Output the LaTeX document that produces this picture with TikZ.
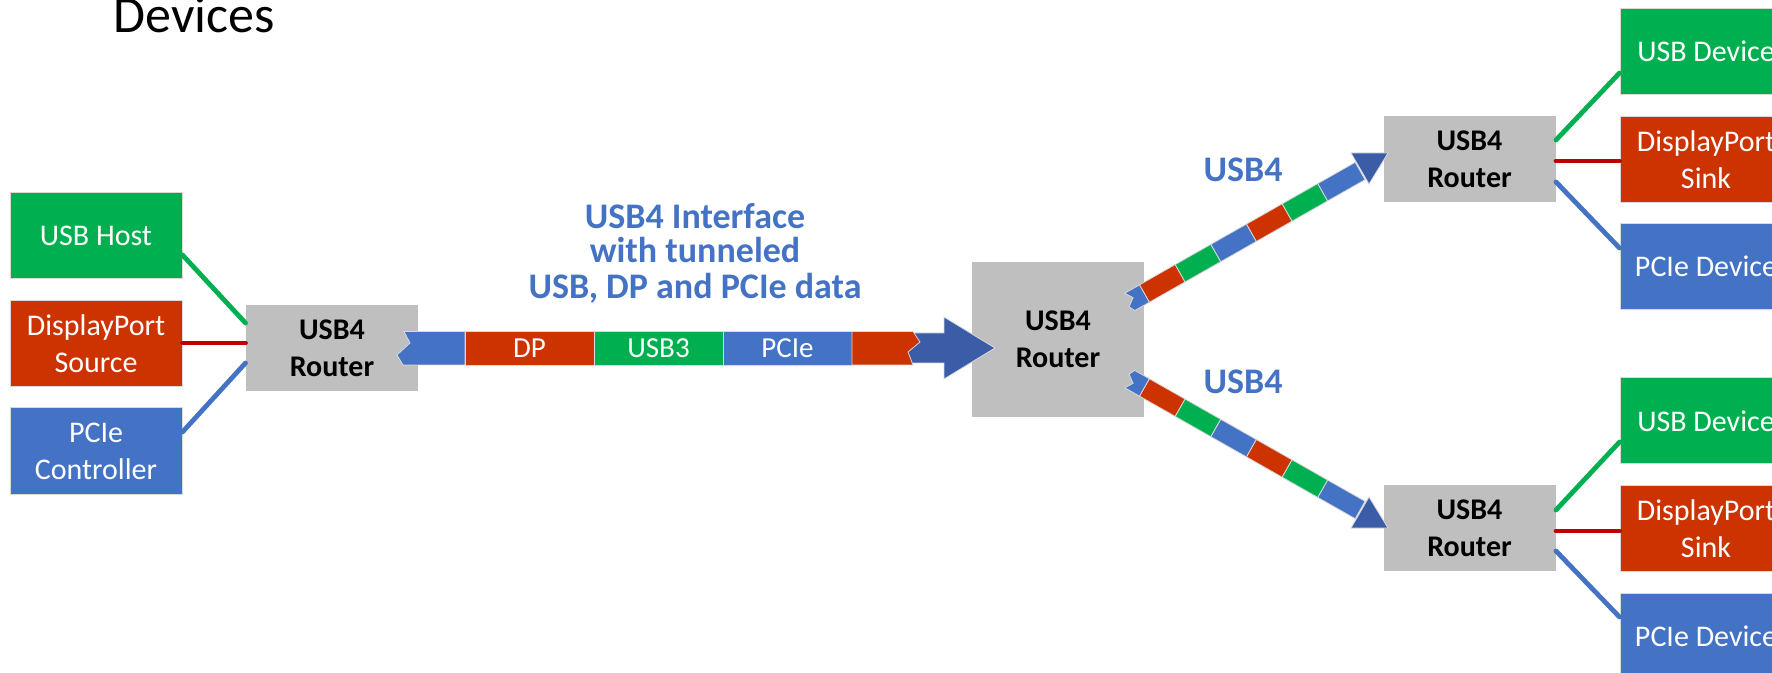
\documentclass[tikz,border=0pt]{standalone}
\usepackage{fontspec}
\setmainfont{Carlito}
\definecolor{ugreen}{HTML}{00B050}
\definecolor{ured}{HTML}{CC3300}
\definecolor{ublue}{HTML}{4472C4}
\definecolor{udark}{HTML}{3B5DA8}
\definecolor{ugray}{HTML}{BFBFBF}
\definecolor{uline}{HTML}{C00000}
\definecolor{edge}{HTML}{D9D9D9}
\newcommand\drawbranch{%
  \begin{scope}[shift={(1144.5,293.5)}, rotate=29.6]
    \filldraw[seg, fill=ublue] (0,-10) -- (-17,-10) -- (-12,-2) -- (-20,4) -- (-17,10) -- (0,10) -- cycle;
    \filldraw[seg, fill=ured]   (0,-10) rectangle (41,10);
    \filldraw[seg, fill=ugreen] (41,-10) rectangle (82,10);
    \filldraw[seg, fill=ublue]  (82,-10) rectangle (123,10);
    \filldraw[seg, fill=ured]   (123,-10) rectangle (164,10);
    \filldraw[seg, fill=ugreen] (164,-10) rectangle (205,10);
    \filldraw[seg, fill=ublue]  (205,-10) rectangle (248,10);
  \end{scope}
  \filldraw[seg, fill=udark] (1351,153) -- (1388,153) -- (1369,184) -- cycle;
}
\begin{document}
\begin{tikzpicture}[x=0.5pt,y=-0.5pt,
  box/.style={rectangle, minimum width=86pt, minimum height=43pt, inner sep=0pt,
    align=center, text=white, font=\fontsize{15}{18.5}\selectfont, draw=edge, line width=0.5pt},
  router/.style={box, fill=ugray, text=black, font=\fontsize{15}{18.5}\selectfont\bfseries, draw=none},
  link/.style={line width=2.4pt, line cap=round},
  seg/.style={draw=edge, line width=0.4pt},
  blabel/.style={text=ublue, font=\fontsize{18}{18}\selectfont\bfseries, inner sep=0pt, anchor=base},
  bandtxt/.style={text=white, font=\fontsize{14.5}{14.5}\selectfont, inner sep=0pt}
]
\useasboundingbox (0,0) rectangle (1772,673);
\clip (0,0) rectangle (1772,673);

% title
\node[anchor=base west, inner sep=0pt, font=\fontsize{26}{26}\selectfont] (title) at (113,32.5) {Devices};

% left side
\node[box, fill=ugreen] (usbhost) at (96,236) {USB Host};
\node[box, fill=ured]   (dpsrc)   at (96,344) {DisplayPort\\Source};
\node[box, fill=ublue]  (pcictl)  at (96,451) {PCIe\\Controller};
\node[router] (rL) at (332,348) {USB4\\Router};

% middle router
\node[router, minimum height=77.5pt] (rM) at (1058,339.5) {USB4\\Router};

% right routers
\node[router] (rTR) at (1469.5,159) {USB4\\Router};
\node[router] (rBR) at (1469.5,528) {USB4\\Router};

% right devices
\node[box, fill=ugreen] (usbdev1) at (1706,51.5)  {USB Device};
\node[box, fill=ured]   (dpsink1) at (1706,159.5) {DisplayPort\\Sink};
\node[box, fill=ublue]  (pcidev1) at (1706,266.5) {PCIe Device};
\node[box, fill=ugreen] (usbdev2) at (1706,421)   {USB Device};
\node[box, fill=ured]   (dpsink2) at (1706,528.5) {DisplayPort\\Sink};
\node[box, fill=ublue]  (pcidev2) at (1706,636)   {PCIe Device};

% links left
\draw[link, ugreen] ([yshift=-9.5pt]usbhost.east) -- ([yshift=12.5pt]rL.west);
\draw[link, uline]  ([yshift=0.5pt]dpsrc.east) -- ([yshift=0.5pt]dpsrc.east -| rL.west);
\draw[link, ublue]  ([yshift=9.5pt]pcictl.east) -- ([yshift=-7.5pt]rL.west);

% links right top
\draw[link, ugreen] ([yshift=9.5pt]rTR.east) -- ([yshift=-10.75pt]usbdev1.west);
\draw[link, uline]  ([yshift=-1pt]rTR.east) -- ([yshift=-1pt]rTR.east -| dpsink1.west);
\draw[link, ublue]  ([yshift=-11.5pt]rTR.east) -- ([yshift=9.25pt]pcidev1.west);

% links right bottom
\draw[link, ugreen] ([yshift=9pt]rBR.east) -- ([yshift=-10.5pt]usbdev2.west);
\draw[link, uline]  ([yshift=-1.5pt]rBR.east) -- ([yshift=-1.5pt]rBR.east -| dpsink2.west);
\draw[link, ublue]  ([yshift=-11.5pt]rBR.east) -- ([yshift=9.5pt]pcidev2.west);

% main tunnel arrow
\filldraw[seg, fill=udark] (900,333) -- (944,333) -- (944,317) -- (995,348) -- (944,379) -- (944,363) -- (900,363) -- cycle;
\filldraw[seg, fill=ublue] (404,331.5) -- (410,343) -- (397,355) -- (403,365) -- (465,365) -- (465,331.5) -- cycle;
\filldraw[seg, fill=ured]   (465,331.5) rectangle (594,365);
\filldraw[seg, fill=ugreen] (594,331.5) rectangle (723,365);
\filldraw[seg, fill=ublue]  (723,331.5) rectangle (852,365);
\filldraw[seg, fill=ured] (852,331.5) -- (913,331.5) -- (920,342) -- (908,352) -- (913,365) -- (852,365) -- cycle;
\node[bandtxt] (dp)   at (529.5,348) {DP};
\node[bandtxt] (usb3) at (658.5,348) {USB3};
\node[bandtxt] (pcie) at (787.5,348) {PCIe};

% branches
\drawbranch
\begin{scope}[yshift=-340.5pt, yscale=-1]
\drawbranch
\end{scope}

% labels
\node[blabel] (lblA) at (695,229) {USB4 Interface};
\node[blabel] (lblB) at (695,263) {with tunneled};
\node[blabel] (lblC) at (695,299) {USB, DP and PCIe data};
\node[blabel] (lblUp) at (1243,182) {USB4};
\node[blabel] (lblDn) at (1243,393.5) {USB4};
\end{tikzpicture}
\end{document}
